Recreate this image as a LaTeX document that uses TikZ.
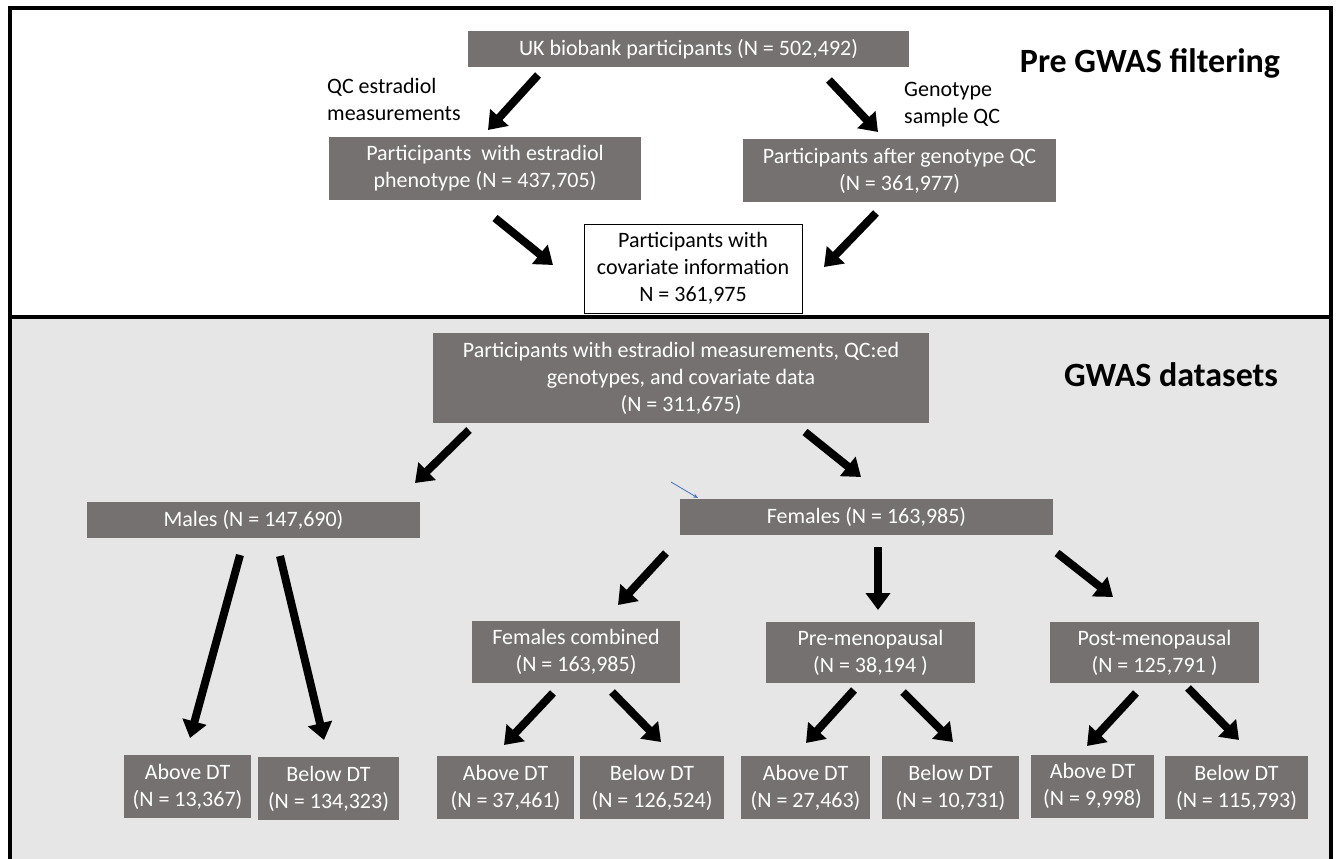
\documentclass[tikz,border=0pt]{standalone}
\usepackage{fontspec}
\setmainfont{Carlito}
\usetikzlibrary{arrows.meta}
\definecolor{boxgray}{HTML}{767171}
\definecolor{panelgray}{HTML}{E7E6E6}
\definecolor{blueline}{HTML}{4472C4}
\begin{document}
\begin{tikzpicture}[x=1pt,y=-1pt,
  gbox/.style={rectangle, fill=boxgray, text=white, inner sep=0pt, align=center, font=\fontsize{22}{27}\selectfont},
  wbox/.style={rectangle, fill=white, draw=black, line width=1pt, inner sep=0pt, align=center, font=\fontsize{22}{27}\selectfont},
  lab/.style={anchor=west, inner sep=0pt, align=left, font=\fontsize{22}{27}\selectfont},
  ttl/.style={anchor=base, inner sep=0pt, font=\fontsize{34}{40}\selectfont\bfseries},
  bigarrow/.style={line width=8pt, -{Triangle[width=24pt,length=17pt]}},
  thinarrow/.style={blueline, line width=0.8pt, -{Stealth[length=5pt,width=4pt]}},
  leaf/.style={gbox, minimum height=63pt}]
\useasboundingbox (0,0) rectangle (1336,859);
% panels
\fill[white] (0,0) rectangle (1336,859);
\fill[panelgray] (10,317) rectangle (1331,859);
\draw[line width=3.5pt] (10,8) rectangle (1331,317);
\draw[line width=3.5pt] (10,317) -- (10,859);
\draw[line width=3.5pt] (1331,317) -- (1331,859);

% titles
\node[ttl] (t1) at (1150,73) {Pre GWAS filtering};
\node[ttl] (t2) at (1171,386) {GWAS datasets};

% top panel nodes
\node[gbox, minimum width=441pt, minimum height=36pt] (uk) at (688.5,49) {UK biobank participants (N = 502,492)};
\node[gbox, minimum width=312pt, minimum height=63pt] (pheno) at (485,168.5) {Participants \ with estradiol\\phenotype (N = 437,705)};
\node[gbox, minimum width=313pt, minimum height=63pt] (geno) at (899.5,170.5) {Participants after genotype QC\\(N = 361,977)};
\node[wbox, minimum width=218pt, minimum height=89pt] (cov) at (693,268.5) {Participants with\\covariate information\\N = 361,975};
\node[lab] (qclab) at (327,99.5) {QC estradiol\\measurements};
\node[lab] (genolab) at (904,104.5) {Genotype\\sample QC};

% bottom panel nodes
\node[gbox, minimum width=496pt, minimum height=90pt] (all) at (681,378) {Participants with estradiol measurements, QC:ed\\genotypes, and covariate data\\(N = 311,675)};
\node[gbox, minimum width=333pt, minimum height=36pt] (males) at (253.5,520) {Males (N = 147,690)};
\node[gbox, minimum width=373pt, minimum height=36pt] (females) at (866.5,517) {Females (N = 163,985)};
\node[gbox, minimum width=208pt, minimum height=62pt] (fc) at (576,652) {Females combined\\(N = 163,985)};
\node[gbox, minimum width=209pt, minimum height=61pt] (pre) at (870.5,652.5) {Pre-menopausal\\(N = 38,194 )};
\node[gbox, minimum width=209pt, minimum height=61pt] (post) at (1154.5,652.5) {Post-menopausal\\(N = 125,791 )};

\node[leaf, minimum width=127pt] (mA) at (187.5,786.5) {Above DT\\(N = 13,367)};
\node[leaf, minimum width=141pt] (mB) at (328.5,788.5) {Below DT\\(N = 134,323)};
\node[leaf, minimum width=137pt] (fcA) at (505.5,787.5) {Above DT\\(N = 37,461)};
\node[leaf, minimum width=144pt] (fcB) at (652,787.5) {Below DT\\(N = 126,524)};
\node[leaf, minimum width=129pt] (preA) at (805.5,787.5) {Above DT\\(N = 27,463)};
\node[leaf, minimum width=137pt] (preB) at (950.5,787.5) {Below DT\\(N = 10,731)};
\node[leaf, minimum width=123pt] (postA) at (1092.5,786) {Above DT\\(N = 9,998)};
\node[leaf, minimum width=143pt] (postB) at (1236.5,787.5) {Below DT\\(N = 115,793)};

% arrow end points
\coordinate (a1s) at (538,75);   \coordinate (a1e) at (488,130);
\coordinate (a2s) at (829,80);   \coordinate (a2e) at (878,132);
\coordinate (a3s) at (495,218);  \coordinate (a3e) at (553,265);
\coordinate (a4s) at (876,213);  \coordinate (a4e) at (824,267);
\coordinate (a5s) at (469,430);  \coordinate (a5e) at (415,483);
\coordinate (a6s) at (805,432);  \coordinate (a6e) at (861,477);
\coordinate (a7s) at (240,555);  \coordinate (a7e) at (190,738);
\coordinate (a8s) at (280,556);  \coordinate (a8e) at (324,740);
\coordinate (a9s) at (666,553);  \coordinate (a9e) at (618,605);
\coordinate (a10s) at (878,547); \coordinate (a10e) at (878,610);
\coordinate (a11s) at (1057,553);\coordinate (a11e) at (1113,597);
\coordinate (a12s) at (553,693); \coordinate (a12e) at (504,745);
\coordinate (a13s) at (612,692); \coordinate (a13e) at (661,742);
\coordinate (a14s) at (854,690); \coordinate (a14e) at (806,743);
\coordinate (a15s) at (903,692); \coordinate (a15e) at (953,742);
\coordinate (a16s) at (1136,693);\coordinate (a16e) at (1087,746);
\coordinate (a17s) at (1188,688);\coordinate (a17e) at (1239,740);
\coordinate (bs) at (671,482);   \coordinate (be) at (698,498);

\foreach \i in {1,...,17} {\draw[bigarrow] (a\i s) -- (a\i e);}
\draw[thinarrow] (bs) -- (be);
\end{tikzpicture}
\end{document}
